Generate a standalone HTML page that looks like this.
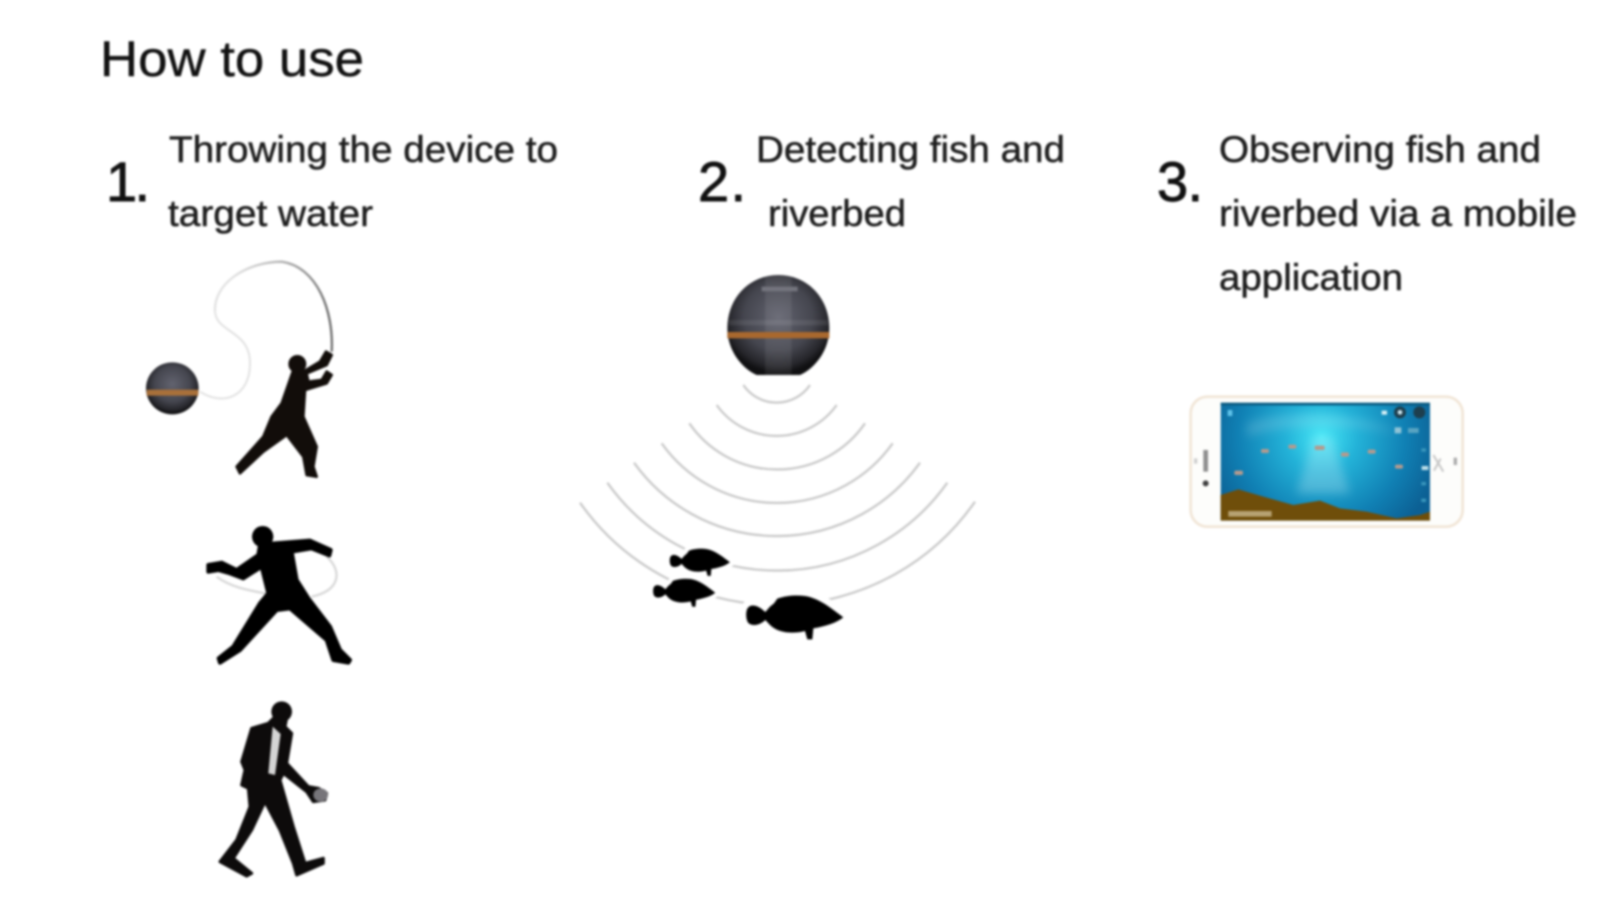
<!DOCTYPE html>
<html>
<head>
<meta charset="utf-8">
<style>
html,body{margin:0;padding:0;background:#fff;width:1599px;height:900px;overflow:hidden}
svg{display:block;position:absolute;left:0;top:0;filter:blur(1.1px)}
text{font-family:"Liberation Sans",sans-serif}
.b{font-size:37px;fill:#1e1e1e;stroke:#1e1e1e;stroke-width:.5px}
.n{font-size:56px;fill:#111;stroke:#111;stroke-width:.9px}
</style>
</head>
<body>
<svg width="1599" height="900" viewBox="0 0 1599 900" xmlns="http://www.w3.org/2000/svg">
<defs>
<radialGradient id="ball" cx="50%" cy="42%" r="56%">
<stop offset="0" stop-color="#62636f"/><stop offset=".6" stop-color="#45464f"/><stop offset=".88" stop-color="#26262b"/><stop offset="1" stop-color="#101012"/>
</radialGradient>
<linearGradient id="stripe" x1="0" x2="1" y1="0" y2="0">
<stop offset="0" stop-color="#fff" stop-opacity="0"/><stop offset=".36" stop-color="#fff" stop-opacity="0"/><stop offset=".38" stop-color="#fff" stop-opacity=".07"/><stop offset=".62" stop-color="#fff" stop-opacity=".07"/><stop offset=".64" stop-color="#fff" stop-opacity="0"/><stop offset="1" stop-color="#fff" stop-opacity="0"/>
</linearGradient>
<linearGradient id="rod" gradientUnits="userSpaceOnUse" x1="400" y1="100" x2="690" y2="200">
<stop offset="0" stop-color="#e2e2e2"/><stop offset="1" stop-color="#6f6f6f"/>
</linearGradient>
<radialGradient id="sea" gradientUnits="userSpaceOnUse" cx="425" cy="170" r="360">
<stop offset="0" stop-color="#45e6f6"/><stop offset=".3" stop-color="#23b2d8"/><stop offset=".7" stop-color="#1080b4"/><stop offset="1" stop-color="#0c6094"/>
</radialGradient>
<filter id="soft" x="-30%" y="-30%" width="160%" height="160%"><feGaussianBlur stdDeviation="14"/></filter>
<path id="fish" d="M531 1048C540 1030 562 1034 586 1056L600 1040L612 1030L622 1016C650 1006 680 1005 705 1008C750 1015 790 1050 820 1072C800 1088 770 1098 730 1105L727 1138L712 1138L705 1113C670 1122 625 1120 600 1095L586 1080C565 1100 540 1098 533 1086C528 1075 527 1060 531 1048Z"/>
</defs>

<rect width="1599" height="900" fill="#fff"/>

<text x="100" y="76" font-size="50" fill="#111" stroke="#111" stroke-width=".4" textLength="264" lengthAdjust="spacingAndGlyphs">How to use</text>

<text class="n" x="106" y="201" textLength="44" lengthAdjust="spacing">1.</text>
<text class="b" x="169" y="162" textLength="389" lengthAdjust="spacingAndGlyphs">Throwing the device to</text>
<text class="b" x="168" y="226" textLength="205" lengthAdjust="spacingAndGlyphs">target water</text>

<text class="n" x="698" y="201" textLength="48" lengthAdjust="spacing">2.</text>
<text class="b" x="756" y="162" textLength="309" lengthAdjust="spacingAndGlyphs">Detecting fish and</text>
<text class="b" x="768" y="226" textLength="138" lengthAdjust="spacingAndGlyphs">riverbed</text>

<text class="n" x="1157" y="201" textLength="46" lengthAdjust="spacing">3.</text>
<text class="b" x="1219" y="162" textLength="322" lengthAdjust="spacingAndGlyphs">Observing fish and</text>
<text class="b" x="1219" y="226" textLength="358" lengthAdjust="spacingAndGlyphs">riverbed via a mobile</text>
<text class="b" x="1219" y="290" textLength="184" lengthAdjust="spacingAndGlyphs">application</text>

<!-- Fisherman -->
<g transform="translate(100,240) scale(.33333)">
<path d="M345 215C350 280 450 270 450 370C450 470 370 500 300 455" fill="none" stroke="#e2e2e2" stroke-width="6"/>
<path d="M695 335C702 210 650 80 545 65C440 65 340 130 345 215" fill="none" stroke="url(#rod)" stroke-width="7"/>
<ellipse cx="217" cy="445" rx="79" ry="78" fill="url(#ball)"/>
<rect x="140" y="449" width="155" height="18" fill="#a8703a"/>
<circle cx="592" cy="372" r="27" fill="#120d0a"/>
<path fill="#120d0a" stroke="#120d0a" stroke-width="8" stroke-linejoin="round" d="M580 390L545 490L515 530L490 590L410 680L420 700L490 635L560 585L610 650L620 705L650 710L640 680L650 620L610 530L615 450L680 430L695 405L680 395L665 420L625 425L620 400L680 375L695 345L678 335L660 365L610 395Z"/>
</g>

<!-- Thrower and walker -->
<g transform="translate(180,510) scale(.33333)">
<path d="M110 200C150 230 200 240 265 252" fill="none" stroke="#d8d8d8" stroke-width="7"/>
<path d="M440 140C485 180 485 240 395 260" fill="none" stroke="#d8d8d8" stroke-width="7"/>
<circle cx="248" cy="80" r="32" fill="#000"/>
<path fill="#000" stroke="#000" stroke-width="12" stroke-linejoin="round" d="M240 105L285 100L390 92L452 120L448 136L395 115L335 125L350 210L385 265L450 350L480 420L510 450L505 458L460 450L440 390L330 295L290 300L180 420L120 458L116 445L160 410L240 280L265 250L245 170L190 205L150 190L115 180L85 185L85 165L125 158L170 180L235 135Z"/>
<circle cx="305" cy="605" r="31" fill="#0d0b0b"/>
<path fill="#0d0b0b" stroke="#0d0b0b" stroke-width="9" stroke-linejoin="round" d="M215 655L265 640L285 620L320 625L315 650L335 670L320 760L385 830L415 835L440 850L435 870L400 875L380 845L310 790L300 810L340 950L375 1060L430 1045L430 1060L350 1095L340 1060L300 960L255 875L215 960L160 1045L215 1090L200 1098L120 1055L170 990L210 890L205 835L185 825L195 780L185 755Z"/>
<path fill="#d4d4d4" d="M278 650L302 672L285 795L265 790Z"/>
<ellipse cx="422" cy="855" rx="22" ry="20" fill="#77757a"/>
</g>

<!-- Sonar -->
<g transform="translate(570,260) scale(.33333)">
<path d="M625 45C710 45 778 112 778 205C778 270 735 325 690 345L560 345C515 325 472 270 472 205C472 112 540 45 625 45Z" fill="url(#ball)"/>
<path d="M625 45C710 45 778 112 778 205C778 270 735 325 690 345L560 345C515 325 472 270 472 205C472 112 540 45 625 45Z" fill="url(#stripe)"/>
<rect x="476" y="180" width="298" height="16" fill="#fff" opacity=".08"/>
<rect x="472" y="216" width="306" height="19" fill="#a9682e"/>
<rect x="575" y="80" width="108" height="14" fill="#73747d"/>
<g fill="none" stroke="#cacaca" stroke-width="7">
<path d="M520 375A121 121 0 0 0 720 375"/>
<path d="M440 435A221 221 0 0 0 800 435"/>
<path d="M358 490A320 320 0 0 0 885 490"/>
<path d="M275 550A425 425 0 0 0 968 550"/>
<path d="M192 608A528 528 0 0 0 1050 608"/>
<path d="M112 668A625 625 0 0 0 1132 668"/>
<path d="M30 728A723 723 0 0 0 1215 725"/>
</g>
<g fill="#000" stroke="#fff" style="paint-order:stroke">
<use href="#fish" stroke-width="44" transform="translate(-28.6,242) scale(.62)"/>
<use href="#fish" stroke-width="40" transform="translate(-89,312) scale(.64)"/>
<use href="#fish" stroke-width="40"/>
</g>
</g>

<!-- Phone -->
<g transform="translate(1180,380) scale(.33333)">
<rect x="32" y="50" width="816" height="390" rx="50" fill="#fdfdfb" stroke="#f1e5d6" stroke-width="8"/>
<clipPath id="sc"><rect x="122" y="68" width="628" height="354"/></clipPath>
<g clip-path="url(#sc)">
<rect x="122" y="68" width="628" height="354" fill="url(#sea)"/>
<rect x="122" y="68" width="628" height="8" fill="#0b5a80"/>
<path fill="#fff" opacity=".22" filter="url(#soft)" d="M400 170L455 170L510 340L350 340Z"/>
<path fill="#fff" opacity=".14" filter="url(#soft)" d="M200 130C300 90 520 90 660 160C520 130 320 130 200 170Z"/>
</g>
<path fill="#6f4e0a" d="M122 345L175 328L250 350L340 375L420 362L480 385L560 395L650 415L720 405L750 395L750 422L122 422Z"/>
<g fill="#b49a8e">
<rect x="243" y="207" width="24" height="12" rx="5"/>
<rect x="325" y="194" width="24" height="12" rx="5"/>
<rect x="404" y="197" width="30" height="13" rx="5"/>
<rect x="483" y="217" width="24" height="13" rx="5"/>
<rect x="563" y="209" width="24" height="12" rx="5"/>
<rect x="645" y="254" width="24" height="12" rx="5"/>
<rect x="163" y="272" width="26" height="13" rx="5"/>
</g>
<circle cx="660" cy="97" r="18" fill="#1e3f4e"/>
<circle cx="718" cy="97" r="18" fill="#1e3f4e"/>
<circle cx="660" cy="97" r="7" fill="#cfe6ee"/>
<rect x="605" y="92" width="16" height="12" fill="#d7f0f6"/>
<rect x="644" y="142" width="20" height="18" fill="#8fc3d6"/>
<rect x="684" y="144" width="32" height="15" fill="#58a4c2"/>
<rect x="143" y="90" width="14" height="18" fill="#5fc3ea"/>
<rect x="725" y="258" width="20" height="12" fill="#bfe0ea"/>
<g fill="#3a97bd">
<rect x="724" y="205" width="14" height="10"/>
<rect x="724" y="306" width="14" height="10"/>
<rect x="724" y="356" width="14" height="10"/>
</g>
<rect x="145" y="393" width="130" height="17" fill="#b7a273"/>
<rect x="70" y="210" width="14" height="65" fill="#8f8f8f"/>
<circle cx="77" cy="310" r="9" fill="#3f3f3f"/>
<rect x="42" y="235" width="10" height="16" fill="#cfcfcf"/>
<path d="M760 225L790 275M762 272L782 236" fill="none" stroke="#c6c6c6" stroke-width="6"/>
<rect x="821" y="233" width="10" height="22" fill="#aaa"/>
</g>
</svg>
</body>
</html>
